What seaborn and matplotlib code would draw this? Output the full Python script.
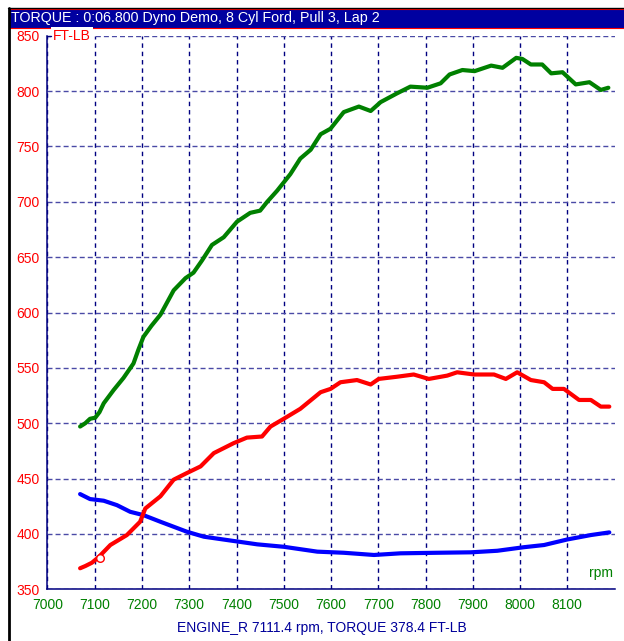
#!/usr/bin/env python3

import pandas as pd
import matplotlib
matplotlib.use("Agg")
import matplotlib.pyplot as plt
import seaborn as sns
from matplotlib.patches import Rectangle
from matplotlib.lines import Line2D
from matplotlib.ticker import FixedLocator

# green trace
rpm_green = [7069, 7080, 7090, 7101, 7110, 7119, 7140, 7161, 7182, 7192, 7203, 7220,
             7239, 7267, 7292, 7309, 7327, 7348, 7373, 7401, 7429, 7450, 7465, 7486,
             7514, 7535, 7557, 7578, 7599, 7627, 7659, 7684, 7705, 7740, 7768, 7804,
             7832, 7851, 7878, 7904, 7939, 7963, 7992, 8005, 8023, 8047, 8066, 8090,
             8118, 8147, 8171, 8187]
val_green = [497, 500, 504, 505, 510, 518, 530, 541, 554, 566, 578, 588,
             598, 620, 631, 636, 647, 661, 668, 682, 690, 692, 700, 710,
             725, 739, 747, 761, 766, 781, 786, 782, 790, 798, 804, 803,
             807, 815, 819, 818, 823, 821, 830, 829, 824, 824, 816, 817,
             806, 808, 801, 803]

# red trace
rpm_red = [7069, 7080, 7094, 7108, 7133, 7168, 7196, 7207, 7239, 7267, 7295, 7324,
           7352, 7394, 7422, 7454, 7472, 7500, 7535, 7578, 7599, 7620, 7655, 7684,
           7701, 7740, 7775, 7807, 7846, 7867, 7903, 7945, 7970, 7994, 8023, 8051,
           8069, 8093, 8125, 8150, 8171, 8189]
val_red = [369, 371, 374, 379, 390, 399, 411, 423, 434, 449, 455, 461,
           473, 482, 487, 488, 497, 504, 513, 528, 531, 537, 539, 535,
           540, 542, 544, 540, 543, 546, 544, 544, 540, 546, 539, 537,
           531, 531, 521, 521, 515, 515]

# blue trace
rpm_blue = [7069, 7090, 7119, 7147, 7175, 7203, 7239, 7267, 7295, 7331, 7380, 7444,
            7500, 7571, 7627, 7691, 7747, 7825, 7896, 7952, 8008, 8051, 8100, 8150,
            8189]
val_blue = [436, 431.5, 430, 426, 420, 417, 411, 406.5, 402, 397.5, 394.5, 390.6,
            388.4, 384, 383, 381, 382.5, 383, 383.4, 384.8, 388, 390, 395, 399,
            401.4]

cursor_rpm = 7111.4
cursor_torque = 378.4

x_ticks = [7000, 7100, 7200, 7300, 7400, 7500, 7600, 7700, 7800, 7900, 8000, 8100]
x_minor = [7050, 7150, 7250, 7350, 7450, 7550, 7650, 7750, 7850, 7950, 8050, 8150, 8200]
y_ticks = [350, 400, 450, 500, 550, 600, 650, 700, 750, 800, 850]
y_minor = [375, 425, 475, 525, 575, 625, 675, 725, 775, 825]

title = "TORQUE : 0:06.800 Dyno Demo, 8 Cyl Ford, Pull 3, Lap 2"
footer = "ENGINE_R 7111.4 rpm, TORQUE 378.4 FT-LB"

NAVY = "#000080"
GREEN = "#008000"
RED = "#ff0000"
BLUE = "#0000ff"

sns.set_style("white")
plt.rcParams["font.family"] = ["Liberation Sans", "DejaVu Sans"]
plt.rcParams["font.size"] = 10

W, H = 624, 641
fig = plt.figure(figsize=(W / 100, H / 100), dpi=100)
fig.patch.set_facecolor("white")

def fx(px):
    return px / W

def fy(py):
    return 1 - py / H

left, right, top, bottom = 47.5, 614.5, 35.7, 589.3
ax = fig.add_axes([fx(left), fy(bottom), (right - left) / W, (bottom - top) / H])
ax.set_facecolor("white")

df_green = pd.DataFrame({"rpm": rpm_green, "torque": val_green})
df_red = pd.DataFrame({"rpm": rpm_red, "torque": val_red})
df_blue = pd.DataFrame({"rpm": rpm_blue, "torque": val_blue})

sns.lineplot(data=df_green, x="rpm", y="torque", ax=ax, color=GREEN, lw=3.0,
             estimator=None, zorder=3)
sns.lineplot(data=df_blue, x="rpm", y="torque", ax=ax, color=BLUE, lw=3.0,
             estimator=None, zorder=3)
sns.lineplot(data=df_red, x="rpm", y="torque", ax=ax, color=RED, lw=3.0,
             estimator=None, zorder=4)
sns.scatterplot(x=[cursor_rpm], y=[cursor_torque], ax=ax, s=30, color="white",
                edgecolor=RED, linewidth=1, zorder=5)

ax.set_xlim(7000, 8200)
ax.set_ylim(350, 850)
ax.set_xlabel("")
ax.set_ylabel("")

ax.xaxis.set_major_locator(FixedLocator(x_ticks))
ax.xaxis.set_minor_locator(FixedLocator(x_minor))
ax.yaxis.set_major_locator(FixedLocator(y_ticks))
ax.yaxis.set_minor_locator(FixedLocator(y_minor))
ax.set_xticklabels([str(t) for t in x_ticks])
ax.set_yticklabels([str(t) for t in y_ticks])

ax.tick_params(axis="x", which="major", direction="out", length=4.5, width=1,
               color=NAVY, labelcolor=GREEN, labelsize=10, pad=2)
ax.tick_params(axis="x", which="minor", direction="out", length=3, width=1, color=NAVY)
ax.tick_params(axis="y", which="major", direction="out", length=4.5, width=1,
               color=NAVY, labelcolor=RED, labelsize=10, pad=1)
ax.tick_params(axis="y", which="minor", direction="out", length=2.2, width=1, color=NAVY)

for side in ["top", "right"]:
    ax.spines[side].set_visible(False)
for side in ["left", "bottom"]:
    ax.spines[side].set_color(NAVY)
    ax.spines[side].set_linewidth(1.1)
    ax.spines[side].set_zorder(6)

ax.xaxis.grid(True, which="major", color=NAVY, ls=(0, (3.2, 2.8)), lw=1)
ax.yaxis.grid(True, which="major", color="#4a4aa6", ls=(0, (3.6, 2.2)), lw=1)
ax.set_axisbelow(True)

# window chrome
fig.add_artist(Rectangle((fx(9), fy(27.5)), 1 - fx(9), (27.5 - 9) / H,
                         transform=fig.transFigure, facecolor="#0000a0",
                         edgecolor="none", zorder=1))
for yy in (9, 27.5):
    fig.add_artist(Line2D([fx(9), 1], [fy(yy), fy(yy)], color=RED, lw=0.8,
                          transform=fig.transFigure, zorder=2))
fig.add_artist(Line2D([fx(8), 1], [fy(7.8), fy(7.8)], color="black", lw=1,
                      transform=fig.transFigure, zorder=2))
fig.add_artist(Line2D([fx(8.8), fx(8.8)], [fy(7.5), 0], color="black", lw=2,
                      transform=fig.transFigure, zorder=2))

fig.text(fx(11), fy(18.3), title, color="white", fontsize=10.3, ha="left", va="center")
fig.text(fx(53), fy(35.7), "FT-LB", color=RED, fontsize=10, ha="left", va="center",
         bbox=dict(facecolor="white", edgecolor="none", pad=1.5), zorder=10)
# top tick crosses the axis
fig.add_artist(Line2D([fx(47.5), fx(51)], [fy(35.7), fy(35.7)], color=NAVY, lw=1,
                      transform=fig.transFigure, zorder=11))
fig.text(fx(613), fy(573), "rpm", color=GREEN, fontsize=10, ha="right", va="center")
fig.text(fx(322), fy(628), footer, color="#00009a", fontsize=10, ha="center", va="center")

plt.savefig("out.png", dpi=100)
plt.close()
